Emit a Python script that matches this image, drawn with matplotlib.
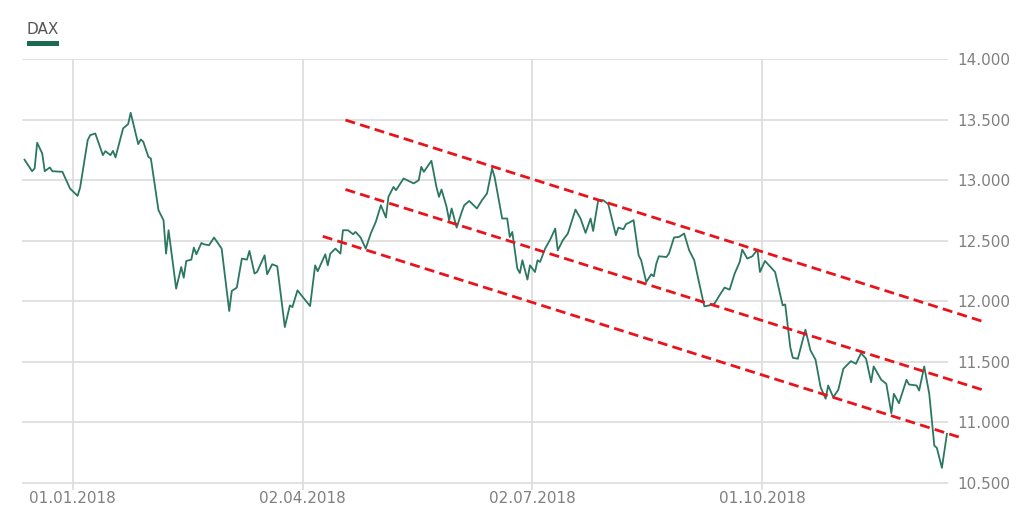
import pandas as pd
import matplotlib
matplotlib.use("Agg")
import matplotlib.pyplot as plt
import matplotlib.dates as mdates
from matplotlib.patches import Rectangle

# DAX closing levels
dates = [
    "2017-12-13", "2017-12-16", "2017-12-17", "2017-12-18", "2017-12-20", "2017-12-21",
    "2017-12-23", "2017-12-24", "2017-12-28", "2017-12-31", "2018-01-03", "2018-01-04",
    "2018-01-07", "2018-01-08", "2018-01-10", "2018-01-13", "2018-01-14", "2018-01-16",
    "2018-01-17", "2018-01-18", "2018-01-21", "2018-01-23", "2018-01-24", "2018-01-27",
    "2018-01-28", "2018-01-29", "2018-01-31", "2018-02-01", "2018-02-04", "2018-02-06",
    "2018-02-07", "2018-02-08", "2018-02-11", "2018-02-13", "2018-02-14", "2018-02-15",
    "2018-02-17", "2018-02-18", "2018-02-19", "2018-02-21", "2018-02-22", "2018-02-24",
    "2018-02-26", "2018-03-01", "2018-03-04", "2018-03-05", "2018-03-07", "2018-03-09",
    "2018-03-11", "2018-03-12", "2018-03-14", "2018-03-15", "2018-03-18", "2018-03-19",
    "2018-03-21", "2018-03-23", "2018-03-26", "2018-03-28", "2018-03-29", "2018-03-31",
    "2018-04-05", "2018-04-07", "2018-04-08", "2018-04-11", "2018-04-12", "2018-04-13",
    "2018-04-15", "2018-04-17", "2018-04-18", "2018-04-20", "2018-04-22", "2018-04-23",
    "2018-04-25", "2018-04-27", "2018-04-29", "2018-05-01", "2018-05-03", "2018-05-05",
    "2018-05-06", "2018-05-08", "2018-05-09", "2018-05-12", "2018-05-16", "2018-05-18",
    "2018-05-19", "2018-05-20", "2018-05-23", "2018-05-25", "2018-05-26", "2018-05-27",
    "2018-05-29", "2018-05-30", "2018-05-31", "2018-06-02", "2018-06-04", "2018-06-05",
    "2018-06-07", "2018-06-10", "2018-06-12", "2018-06-14", "2018-06-16", "2018-06-17",
    "2018-06-20", "2018-06-22", "2018-06-23", "2018-06-24", "2018-06-26", "2018-06-27",
    "2018-06-28", "2018-06-30", "2018-07-01", "2018-07-03", "2018-07-04", "2018-07-05",
    "2018-07-07", "2018-07-09", "2018-07-11", "2018-07-12", "2018-07-14", "2018-07-16",
    "2018-07-19", "2018-07-21", "2018-07-23", "2018-07-25", "2018-07-26", "2018-07-28",
    "2018-07-30", "2018-08-01", "2018-08-04", "2018-08-05", "2018-08-07", "2018-08-08",
    "2018-08-09", "2018-08-11", "2018-08-13", "2018-08-14", "2018-08-16", "2018-08-18",
    "2018-08-19", "2018-08-20", "2018-08-21", "2018-08-24", "2018-08-25", "2018-08-27",
    "2018-08-29", "2018-08-31", "2018-09-02", "2018-09-04", "2018-09-06", "2018-09-08",
    "2018-09-10", "2018-09-12", "2018-09-14", "2018-09-16", "2018-09-18", "2018-09-20",
    "2018-09-22", "2018-09-23", "2018-09-25", "2018-09-27", "2018-09-29", "2018-09-30",
    "2018-10-02", "2018-10-06", "2018-10-09", "2018-10-10", "2018-10-12", "2018-10-13",
    "2018-10-15", "2018-10-18", "2018-10-20", "2018-10-22", "2018-10-24", "2018-10-26",
    "2018-10-27", "2018-10-29", "2018-10-31", "2018-11-02", "2018-11-05", "2018-11-07",
    "2018-11-09", "2018-11-11", "2018-11-13", "2018-11-14", "2018-11-17", "2018-11-19",
    "2018-11-21", "2018-11-22", "2018-11-24", "2018-11-27", "2018-11-28", "2018-12-01",
    "2018-12-02", "2018-12-04", "2018-12-06", "2018-12-08", "2018-12-09", "2018-12-11",
    "2018-12-13",
]
dax = [
    13170, 13075, 13098, 13310, 13222, 13075,
    13106, 13075, 13070, 12932, 12871, 12940,
    13332, 13373, 13387, 13208, 13241, 13208,
    13243, 13189, 13429, 13464, 13558, 13299,
    13338, 13318, 13194, 13180, 12753, 12670,
    12394, 12587, 12104, 12283, 12195, 12333,
    12344, 12444, 12388, 12482, 12471, 12463,
    12527, 12435, 11919, 12085, 12113, 12353,
    12344, 12416, 12229, 12242, 12380, 12223,
    12306, 12289, 11787, 11966, 11952, 12090,
    11960, 12297, 12248, 12388, 12297, 12394,
    12435, 12394, 12587, 12587, 12554, 12573,
    12527, 12435, 12560, 12656, 12794, 12692,
    12863, 12945, 12918, 13015, 12974, 13001,
    13111, 13070, 13161, 12945, 12863, 12924,
    12780, 12670, 12767, 12609, 12738, 12794,
    12829, 12767, 12835, 12891, 13098, 13028,
    12684, 12684, 12531, 12573, 12270, 12233,
    12339, 12179, 12297, 12242, 12339, 12325,
    12435, 12510, 12601, 12421, 12504, 12560,
    12758, 12684, 12565, 12684, 12581, 12835,
    12835, 12802, 12546, 12609, 12595, 12637,
    12647, 12670, 12380, 12339, 12159, 12223,
    12206, 12311, 12372, 12366, 12394, 12527,
    12532, 12560, 12421, 12339, 12146, 11958,
    11966, 11980, 12049, 12113, 12096, 12229,
    12325, 12427, 12353, 12372, 12427, 12242,
    12333, 12242, 11966, 11974, 11621, 11533,
    11525, 11765, 11594, 11517, 11290, 11194,
    11304, 11207, 11268, 11442, 11505, 11483,
    11571, 11525, 11331, 11461, 11351, 11318,
    11075, 11235, 11157, 11351, 11312, 11304,
    11262, 11461, 11235, 10807, 10788, 10623,
    10904,
]

# trend channel (start / end points)
channel_dates = [("2018-04-19", "2018-12-28"),
                 ("2018-04-19", "2018-12-28"),
                 ("2018-04-10", "2018-12-18")]
channel_vals = [(13498, 11828),
                (12924, 11262),
                (12537, 10876)]

y_ticks = [10500, 11000, 11500, 12000, 12500, 13000, 13500, 14000]
x_ticks = ["2018-01-01", "2018-04-02", "2018-07-02", "2018-10-01"]

def de_fmt(v, pos=None):
    return f"{int(v):,}".replace(",", ".")

fig = plt.figure(figsize=(10.26, 5.23), dpi=100)
ax = fig.add_axes([22 / 1026, 1 - 490 / 523, (948 - 22) / 1026, (490 - 59.3) / 523])

ax.plot(pd.to_datetime(dates), dax, color="#2b7762", lw=1.3, zorder=3)

for (d0, d1), (v0, v1) in zip(channel_dates, channel_vals):
    ax.plot(pd.to_datetime([d0, d1]), [v0, v1], color="#e8131b", lw=2.0,
            dashes=(3.6, 1.9), clip_on=False, zorder=4)

ax.set_ylim(10440, 14000)
ax.set_xlim(pd.Timestamp("2017-12-12"), pd.Timestamp("2018-12-13 10:00"))

ax.set_yticks(y_ticks)
ax.yaxis.set_major_formatter(plt.FuncFormatter(de_fmt))
ax.yaxis.tick_right()
ax.set_xticks(pd.to_datetime(x_ticks))
ax.xaxis.set_major_formatter(mdates.DateFormatter("%d.%m.%Y"))

ax.tick_params(axis="y", length=0, pad=6.5, labelsize=11, labelcolor="#808080")
ax.tick_params(axis="x", length=0, pad=1, labelsize=11, labelcolor="#808080")

ax.grid(True, color="#dcdcdc", lw=1.2, zorder=0)
for s in ax.spines.values():
    s.set_visible(False)

# legend
fig.text(27 / 1026, 1 - 29 / 523, "DAX", fontsize=11, color="#555555", va="center", ha="left")
fig.add_artist(Rectangle((27 / 1026, 1 - 46 / 523), 32 / 1026, 4.5 / 523,
                         transform=fig.transFigure, color="#1c6a50", lw=0))

fig.savefig("out.png", dpi=100, facecolor="white")
